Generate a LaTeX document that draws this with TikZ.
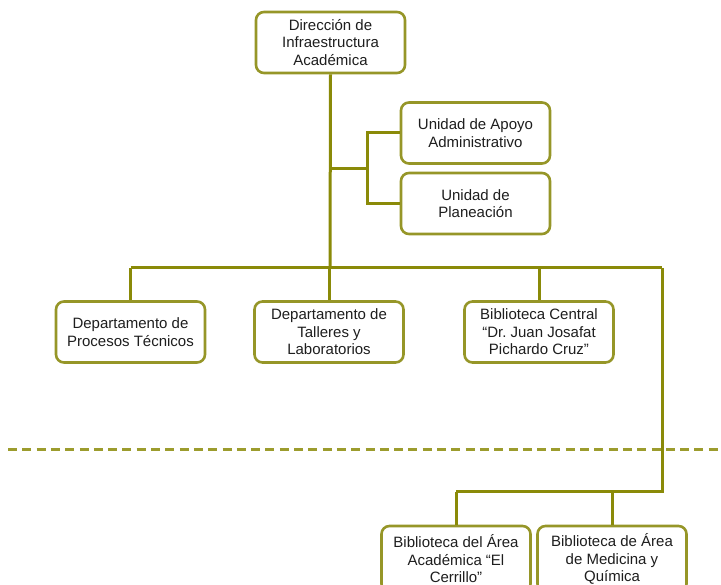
\documentclass[tikz,border=0pt]{standalone}
\usepackage{fontspec}
\setmainfont{Liberation Sans}
\frenchspacing
\definecolor{olv}{RGB}{138,138,8}
\definecolor{olvbox}{RGB}{150,150,40}
\definecolor{txt}{RGB}{30,30,30}
\begin{document}
\begin{tikzpicture}[x=1pt,y=-1pt,
  box/.style={draw=olvbox,line width=2.6pt,rounded corners=8pt,fill=white,
    minimum width=149pt,minimum height=61pt,align=center,inner sep=2pt,
    text=txt,font=\fontsize{15}{17.5}\selectfont},
  conn/.style={draw=olv,line width=3pt},
  sep/.style={draw=olv!85,line width=3pt,dash pattern=on 9pt off 5.3pt}]
\useasboundingbox (0,0) rectangle (721,585);
\clip (0,0) rectangle (721,585);
% nodes
\node[box] (dir) at (330.5,42.5) {Dirección de\\Infraestructura\\Académica};
\node[box] (uaa) at (475.5,133) {Unidad de Apoyo\\Administrativo};
\node[box] (upl) at (475.5,203.5) {Unidad de\\Planeación};
\node[box] (dpt) at (130.5,332) {Departamento de\\Procesos Técnicos};
\node[box] (dtl) at (329,332) {Departamento de\\Talleres y\\Laboratorios};
\node[box] (bcr) at (539,332) {Biblioteca Central\\“Dr. Juan Josafat\\Pichardo Cruz”};
\node[box,minimum height=66pt] (bce) at (456,559) {Biblioteca del Área\\Académica “El\\Cerrillo”};
\node[box,minimum height=66pt] (bmq) at (612,559) {Biblioteca de Área\\de Medicina y\\Química};
% coordinates
\coordinate (b1) at (330,169);
\coordinate (b2) at (367,169);
\coordinate (hub) at (330,268);
\coordinate (hL) at (130.5,268);
\coordinate (hR) at (662,268);
\coordinate (lo) at (662,492);
\coordinate (ll) at (456,492);
\coordinate (dsL) at (8,450);
\coordinate (dsR) at (721,450);
% connectors
\draw[sep] (dsL) -- (dsR);
\draw[conn] (dir.south) -- (hub);
\draw[conn] (b1) -- (b2);
\draw[conn] (uaa.west) -| (b2) |- (upl.west);
\draw[conn] (hL) -- (hR);
\draw[conn] (dpt.north) -- (hL);
\draw[conn] (dtl.north) -- (dtl.north |- hub);
\draw[conn] (bcr.north) -- (bcr.north |- hub);
\draw[conn] (hR) -- (lo) -- (ll);
\draw[conn] (bce.north) -- (ll);
\draw[conn] (bmq.north) -- (bmq.north |- lo);
\end{tikzpicture}
\end{document}
